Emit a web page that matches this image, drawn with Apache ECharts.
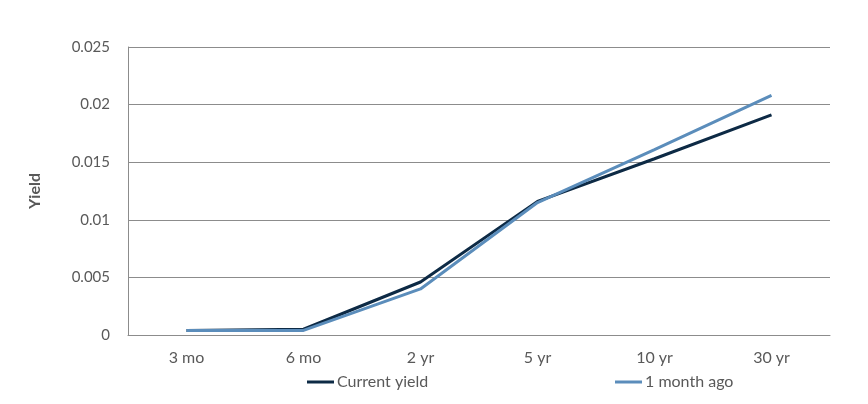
<!DOCTYPE html>
<html>
<head>
<meta charset="utf-8">
<script src="https://cdn.jsdelivr.net/npm/echarts@6/dist/echarts.min.js"></script>
<style>
html,body{margin:0;padding:0;background:#fff;}
#chart{width:868px;height:404px;}
</style>
</head>
<body>
<div id="chart"></div>
<script>
var tenors = ['3 mo', '6 mo', '2 yr', '5 yr', '10 yr', '30 yr'];
var currentYield = [0.0004, 0.0005, 0.0046, 0.0116, 0.0153, 0.0191];
var monthAgo = [0.0004, 0.0004, 0.0040, 0.0115, 0.0161, 0.0208];
var yTicks = [0, 0.005, 0.01, 0.015, 0.02, 0.025];

var myChart = echarts.init(document.getElementById('chart'));
var fontFam = 'Lato, "Open Sans", sans-serif';
var option = {
	animation: false,
	textStyle: { fontFamily: fontFam },
	grid: { left: 128, right: 38, top: 47, bottom: 69 },
	legend: [{
		left: 307, top: 374, padding: 0,
		itemWidth: 27, itemHeight: 3, itemGap: 4,
		icon: 'rect',
		textStyle: { color: '#595959', fontSize: 16, fontFamily: fontFam, padding: [0, 0, 0, -2] },
		data: ['Current yield']
	}, {
		left: 615, top: 374, padding: 0,
		itemWidth: 27, itemHeight: 3,
		icon: 'rect',
		textStyle: { color: '#595959', fontSize: 16, fontFamily: fontFam, padding: [0, 0, 0, -2] },
		data: ['1 month ago']
	}],
	xAxis: {
		type: 'category',
		data: tenors,
		boundaryGap: true,
		axisLine: { lineStyle: { color: '#8c8c8c', width: 1 } },
		axisTick: { show: false },
		axisLabel: { color: '#595959', fontSize: 16, margin: 15 }
	},
	yAxis: {
		type: 'value',
		min: 0, max: 0.025, interval: 0.005,
		name: 'Yield',
		nameLocation: 'middle',
		nameGap: 85,
		nameRotate: 90,
		nameTextStyle: { color: '#595959', fontSize: 16, fontWeight: 'bold' },
		axisLine: { show: true, lineStyle: { color: '#8c8c8c', width: 1 } },
		axisTick: { show: false },
		splitLine: { lineStyle: { color: '#8c8c8c', width: 1 } },
		axisLabel: {
			color: '#595959', fontSize: 15, margin: 18,
			formatter: function (v) {
				for (var i = 0; i < yTicks.length; i++) {
					if (Math.abs(v - yTicks[i]) < 1e-9) return String(yTicks[i]);
				}
				return '';
			}
		}
	},
	series: [{
		name: 'Current yield',
		type: 'line',
		data: currentYield,
		symbol: 'none',
		color: '#0d2a45',
		lineStyle: { width: 3, color: '#0d2a45' },
		z: 2
	}, {
		name: '1 month ago',
		type: 'line',
		data: monthAgo,
		symbol: 'none',
		color: '#5b8dbb',
		lineStyle: { width: 3, color: '#5b8dbb' },
		z: 3
	}]
};
myChart.setOption(option);
</script>
</body>
</html>
